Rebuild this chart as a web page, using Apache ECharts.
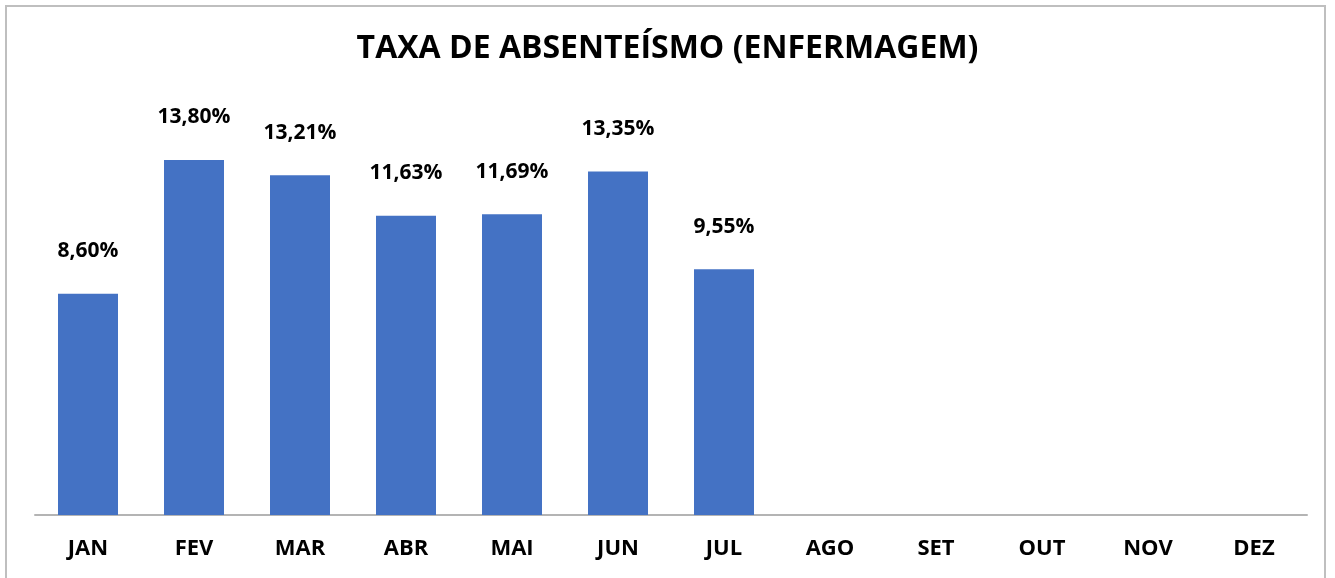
<!DOCTYPE html>
<html>
<head>
<meta charset="utf-8">
<script src="https://cdn.jsdelivr.net/npm/echarts@6/dist/echarts.min.js"></script>
<style>
  html, body { margin: 0; padding: 0; background: #fff; }
  #frame {
    position: absolute; left: 5px; top: 5px; width: 1321px; height: 590px;
    border: 2px solid #bfbfbf; box-sizing: border-box;
  }
  #chart { position: absolute; left: 0; top: 0; width: 1335px; height: 578px; }
</style>
</head>
<body>
<div id="frame"></div>
<div id="chart"></div>
<script>
// meses e taxas de absenteísmo (%)
const months = ['JAN', 'FEV', 'MAR', 'ABR', 'MAI', 'JUN', 'JUL', 'AGO', 'SET', 'OUT', 'NOV', 'DEZ']
const rates = [8.60, 13.80, 13.21, 11.63, 11.69, 13.35, 9.55, null, null, null, null, null]

const myChart = echarts.init(document.getElementById('chart'))
myChart.setOption({
  animation: false,
  title: {
    text: 'TAXA DE ABSENTEÍSMO (ENFERMAGEM)',
    left: 'center',
    top: 28,
    textStyle: {
      fontFamily: 'Open Sans',
      fontWeight: 'bold',
      fontSize: 32,
      color: '#000'
    }
  },
  grid: {
    left: 35,
    right: 28,
    top: 103.4,
    bottom: 63
  },
  xAxis: {
    type: 'category',
    data: months,
    axisLine: { lineStyle: { color: '#b4b4b4', width: 2 } },
    axisTick: { show: false },
    axisLabel: {
      margin: 23,
      color: '#000',
      fontFamily: 'Open Sans',
      fontWeight: 'bold',
      fontSize: 22
    }
  },
  yAxis: {
    type: 'value',
    min: 0,
    max: 16,
    show: false,
    splitLine: { show: false }
  },
  series: [{
    type: 'bar',
    data: rates,
    barWidth: 60,
    itemStyle: { color: '#4472C4' },
    label: {
      show: true,
      position: 'top',
      distance: 32,
      color: '#000',
      fontFamily: 'Open Sans',
      fontWeight: 'bold',
      fontSize: 21,
      formatter: p => p.value.toFixed(2).replace('.', ',') + '%'
    }
  }]
})
</script>
</body>
</html>
